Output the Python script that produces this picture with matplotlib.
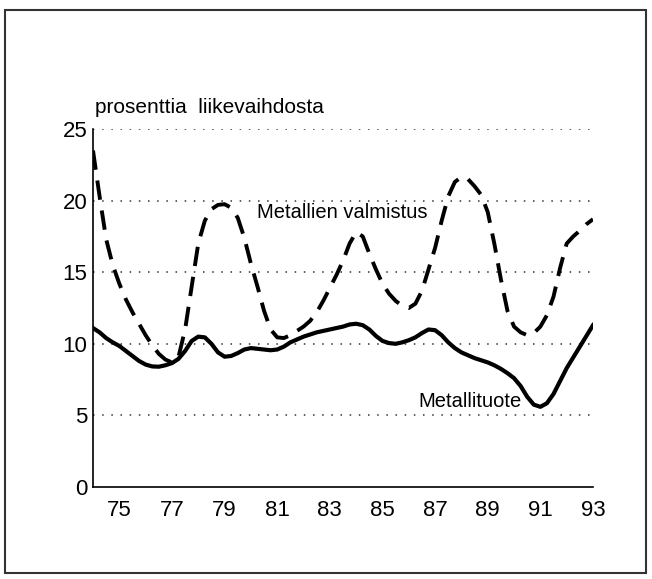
import matplotlib
matplotlib.use("Agg")
import matplotlib.pyplot as plt
import numpy as np
from matplotlib.patches import Rectangle

plt.rcParams['font.family'] = ['Liberation Sans', 'DejaVu Sans']

# quarterly readings, 1974 - 1993
years = np.arange(74, 93.01, 0.25)

# Metallituote (solid line)
tuote = [11.1, 10.8, 10.4, 10.1, 9.85, 9.5, 9.15, 8.8, 8.55, 8.42, 8.4, 8.5,
         8.65, 8.95, 9.5, 10.2, 10.5, 10.45, 10.0, 9.4, 9.1, 9.15, 9.35, 9.6,
         9.7, 9.65, 9.6, 9.55, 9.6, 9.8, 10.1, 10.3, 10.5, 10.65, 10.8, 10.9,
         11.0, 11.1, 11.2, 11.35, 11.4, 11.3, 11.0, 10.55, 10.2, 10.05, 10.0, 10.1,
         10.25, 10.45, 10.75, 11.0, 10.95, 10.6, 10.1, 9.7, 9.4, 9.2, 9.0, 8.85,
         8.7, 8.5, 8.25, 7.95, 7.6, 7.05, 6.3, 5.75, 5.6, 5.85, 6.5, 7.4,
         8.3, 9.05, 9.8, 10.55, 11.3]

# Metallien valmistus (dashed line)
valm = [23.5, 20.3, 17.3, 15.5, 14.2, 13.1, 12.2, 11.4, 10.6, 9.9, 9.3, 8.9,
        8.7, 9.1, 11.0, 14.0, 17.0, 18.6, 19.4, 19.7, 19.75, 19.5, 18.8, 17.4,
        15.6, 14.0, 12.3, 11.0, 10.45, 10.4, 10.6, 10.9, 11.2, 11.6, 12.2, 13.0,
        13.9, 14.8, 15.8, 17.0, 17.8, 17.5, 16.3, 15.2, 14.2, 13.5, 13.0, 12.65,
        12.5, 12.8, 13.7, 15.2, 16.7, 18.6, 20.3, 21.3, 21.65, 21.5, 21.0, 20.4,
        19.2, 17.0, 14.5, 12.3, 11.2, 10.8, 10.6, 10.75, 11.2, 12.0, 13.3, 15.3,
        17.0, 17.5, 17.9, 18.35, 18.7]

xticks = [75, 77, 79, 81, 83, 85, 87, 89, 91, 93]
yticks = [0, 5, 10, 15, 20, 25]

W, H = 652, 579
fig = plt.figure(figsize=(W / 100, H / 100), dpi=100)
ax = fig.add_axes([93 / W, 92 / H, 500 / W, 358 / H])

for y in yticks[1:]:
    ax.axhline(y, color='#333333', lw=1.1, ls=(0, (1, 5)), zorder=1)

ax.plot(years, tuote, color='black', lw=3.0, solid_joinstyle='round', zorder=3)
ax.plot(years, valm, color='black', lw=2.8, ls=(0, (5.0, 2.8)), zorder=3)

ax.text(80.24, 19.2, 'Metallien valmistus', fontsize=14.5, va='center')
ax.text(86.36, 5.94, 'Metallituote', fontsize=14.5, va='center')

ax.set_xlim(74, 93)
ax.set_ylim(0, 25)
ax.set_xticks(xticks)
ax.set_yticks(yticks)
ax.tick_params(length=0, labelsize=16)
ax.tick_params(axis='x', pad=9)
ax.tick_params(axis='y', pad=4)
ax.spines['top'].set_visible(False)
ax.spines['right'].set_visible(False)
ax.spines['left'].set_linewidth(1.2)
ax.spines['bottom'].set_linewidth(1.2)

fig.text(95 / W, 1 - 113 / H, 'prosenttia  liikevaihdosta', fontsize=15, va='baseline')

fig.add_artist(Rectangle((5 / W, 1 - 573 / H), 641 / W, 563 / H, transform=fig.transFigure,
                         fill=False, edgecolor='#333333', lw=1.5))

fig.savefig('out.png', dpi=100)
